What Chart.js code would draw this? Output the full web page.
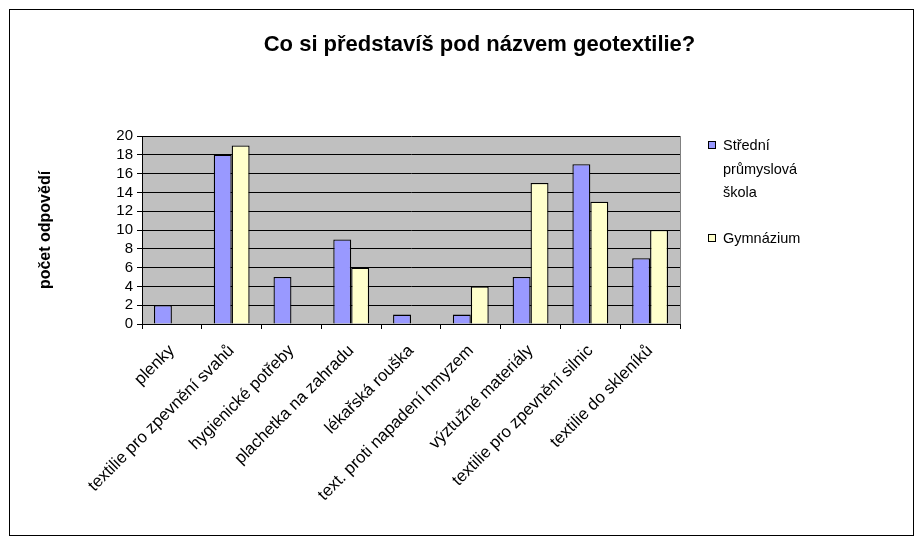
<!DOCTYPE html>
<html><head><meta charset="utf-8">
<script src="https://cdn.jsdelivr.net/npm/chart.js@4/dist/chart.umd.min.js"></script>
<style>html,body{margin:0;padding:0;background:#fff;}canvas{display:block;}</style>
</head><body>
<canvas id="c" width="923" height="544"></canvas>
<script>
const categories = ["plenky", "textilie pro zpevnění svahů", "hygienické potřeby", "plachetka na zahradu", "lékařská rouška", "text. proti napadení hmyzem", "výztužné materiály", "textilie pro zpevnění silnic", "textilie do skleníků"];
const seriesNames = ["Střední průmyslová škola", "Gymnázium"];
const spsValues = [2, 18, 5, 9, 1, 1, 5, 17, 7];
const gymValues = [0, 19, 0, 6, 0, 4, 15, 13, 10];
const yTicks = [0, 2, 4, 6, 8, 10, 12, 14, 16, 18, 20];
const chartTitle = "Co si představíš pod názvem geotextilie?";
const yAxisTitle = "počet odpovědí";
const seriesColors = ["#9999FF", "#FFFFCC"];

const FONT = "'Liberation Sans', Arial, sans-serif";

const decor = {
  id: 'decor',
  beforeDraw(chart) {
    const {ctx, chartArea: a} = chart;
    ctx.save();
    ctx.fillStyle = '#C0C0C0';
    ctx.fillRect(a.left, a.top, a.right - a.left, a.bottom - a.top);
    ctx.restore();
  },
  afterDraw(chart) {
    const {ctx, chartArea: a} = chart;
    ctx.save();
    ctx.strokeStyle = '#808080';
    ctx.lineWidth = 1;
    ctx.beginPath();
    ctx.moveTo(Math.round(a.right) + 0.5, a.top);
    ctx.lineTo(Math.round(a.right) + 0.5, a.bottom);
    ctx.stroke();
    // outer frame
    ctx.strokeStyle = '#000';
    ctx.strokeRect(9.5, 9.5, 904, 526);
    // legend
    ctx.font = '14.5px ' + FONT;
    ctx.textBaseline = 'alphabetic';
    const lx = 708, tx = 723, lh = 23.5;
    let y = 150;
    chart.data.datasets.forEach((ds) => {
      const words = ds.label.split(' ');
      const lines = [];
      let cur = '';
      words.forEach(w => {
        const t = cur ? cur + ' ' + w : w;
        if (ctx.measureText(t).width > 90 && cur) { lines.push(cur); cur = w; } else cur = t;
      });
      if (cur) lines.push(cur);
      ctx.fillStyle = ds.backgroundColor;
      ctx.fillRect(lx + 0.5, y - 8.5, 7, 7);
      ctx.strokeStyle = '#000';
      ctx.strokeRect(lx + 0.5, y - 8.5, 7, 7);
      ctx.fillStyle = '#000';
      lines.forEach((ln, k) => ctx.fillText(ln, tx, y + k * lh));
      y += lines.length * lh + 22.5;
    });
    ctx.restore();
  }
};

new Chart(document.getElementById('c'), {
  type: 'bar',
  data: {
    labels: categories,
    datasets: [
      { label: seriesNames[0], data: spsValues, backgroundColor: seriesColors[0], borderColor: '#000', borderWidth: 1.3, categoryPercentage: 0.6, barPercentage: 1 },
      { label: seriesNames[1], data: gymValues, backgroundColor: seriesColors[1], borderColor: '#000', borderWidth: 1.3, categoryPercentage: 0.6, barPercentage: 1 }
    ]
  },
  options: {
    responsive: false,
    animation: false,
    events: [],
    layout: { padding: { left: 36, right: 0, top: 0, bottom: 0 } },
    plugins: {
      legend: { display: false },
      tooltip: { enabled: false },
      title: {
        display: true, text: chartTitle, color: '#000',
        font: { family: FONT, size: 22, weight: 'bold', lineHeight: 1.2 },
        padding: { top: 32, bottom: 77.6 }
      }
    },
    scales: {
      x: {
        offset: true,
        grid: { offset: true, drawOnChartArea: false, drawTicks: true, tickLength: 5, color: '#000' },
        border: { color: '#000' },
        ticks: { color: '#000', font: { family: FONT, size: 16.8 }, minRotation: 45, maxRotation: 45, autoSkip: false, padding: 12 },
        afterFit: s => { s.height = 220; }
      },
      y: {
        min: 0, max: 20,
        afterBuildTicks: s => { s.ticks = yTicks.map(v => ({ value: v })); },
        grid: { color: '#000', tickLength: 5 },
        border: { color: '#000' },
        ticks: { color: '#000', font: { family: FONT, size: 15 }, padding: 4, autoSkip: false },
        title: { display: true, text: yAxisTitle, color: '#000', font: { family: FONT, size: 16, weight: 'bold', lineHeight: 1.2 }, padding: { top: 0, bottom: 0 } },
        afterFit: s => { s.width = 106; }
      },
      yR: {
        position: 'right', display: true,
        grid: { display: false }, border: { display: false },
        ticks: { display: false },
        afterFit: s => { s.width = 243; }
      }
    }
  },
  plugins: [decor]
});
</script>
</body></html>
